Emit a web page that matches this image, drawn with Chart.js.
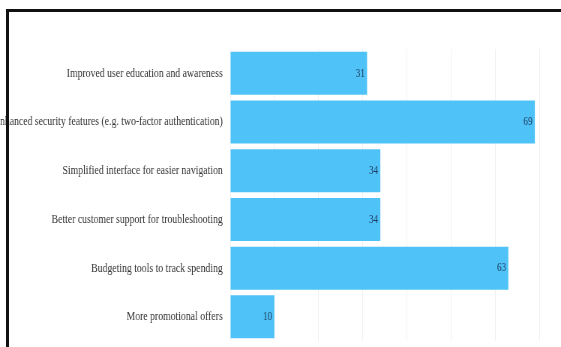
<!DOCTYPE html>
<html>
<head>
<meta charset="utf-8">
<script src="https://cdn.jsdelivr.net/npm/chart.js@4.4.0/dist/chart.umd.min.js"></script>
<style>
  html, body { margin: 0; padding: 0; background: #fff; overflow: hidden; }
  #frame {
    position: absolute; left: 6px; top: 9px;
    width: 620px; height: 420px;
    border: 3px solid #111; z-index: 2; pointer-events: none;
  }
  #wrap {
    position: absolute; left: 0; top: 0;
    width: 748px; height: 359px;
    transform: scaleX(0.75); transform-origin: 0 0;
  }
</style>
</head>
<body>
<div id="wrap"><canvas id="grafico"></canvas></div>
<div id="frame"></div>
<script>
// Dados

var categorias = [
  "Improved user education and awareness",
  "Enhanced security features (e.g. two-factor authentication)",
  "Simplified interface for easier navigation",
  "Better customer support for troubleshooting",
  "Budgeting tools to track spending",
  "More promotional offers"
];

var valores = [31, 69, 34, 34, 63, 10];

var eixoMax = 70;

// valor escrito no fim de cada barra
var rotulosBarras = {
  id: 'rotulosBarras',
  afterDatasetsDraw: function(chart) {
    var ctx = chart.ctx;
    var meta = chart.getDatasetMeta(0);
    ctx.save();
    ctx.font = '12px "Liberation Serif"';
    ctx.fillStyle = '#1c355a';
    ctx.textAlign = 'right';
    ctx.textBaseline = 'middle';
    meta.data.forEach(function(bar, i) {
      ctx.fillText(valores[i], bar.x - 3, bar.y);
    });
    ctx.restore();
  }
};

var ctx = document.getElementById("grafico");

var grafico = new Chart(ctx, {
  type: 'bar',
  data: {
    labels: categorias,
    datasets: [
      {
        data: valores,
        backgroundColor: '#4fc3f7',
        borderWidth: 0,
        barPercentage: 0.9,
        categoryPercentage: 0.98
      }
    ]
  },
  options: {
    indexAxis: 'y',
    responsive: true,
    maintainAspectRatio: false,
    animation: false,
    layout: { padding: { top: 49, bottom: 0, left: 0, right: 29 } },
    plugins: {
      legend: { display: false },
      tooltip: { enabled: false }
    },
    scales: {
      x: {
        min: 0,
        max: eixoMax,
        ticks: { display: false, stepSize: 10 },
        grid: { color: '#f0f0f0', drawTicks: false },
        border: { display: false }
      },
      y: {
        afterFit: function(scale) { scale.width = 307; },
        ticks: {
          padding: 10,
          color: '#333',
          font: { family: '"Liberation Serif"', size: 13 }
        },
        grid: { display: false, drawTicks: false },
        border: { display: false }
      }
    }
  },
  plugins: [rotulosBarras]
});
</script>
</body>
</html>
